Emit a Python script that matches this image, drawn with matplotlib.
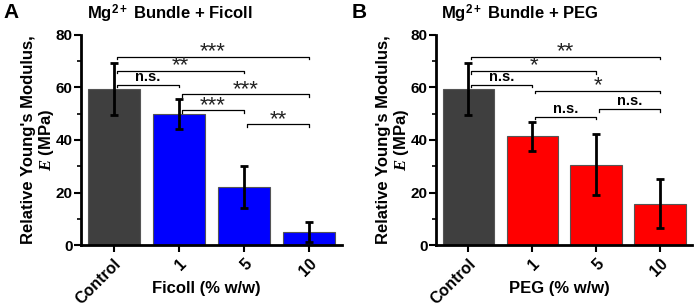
import matplotlib.pyplot as plt
import numpy as np

plt.rcParams['font.family'] = ['Liberation Sans', 'DejaVu Sans']
plt.rcParams['font.weight'] = 'bold'
plt.rcParams['axes.titleweight'] = 'bold'
plt.rcParams['axes.labelweight'] = 'bold'
plt.rcParams['mathtext.fontset'] = 'custom'
plt.rcParams['mathtext.rm'] = 'Liberation Sans:bold'
plt.rcParams['mathtext.bf'] = 'Liberation Sans:bold'
plt.rcParams['mathtext.it'] = 'Liberation Serif:italic'

categories = ['Control', '1', '5', '10']

ficoll_mean = [59.5, 50.0, 22.2, 5.0]
ficoll_err = [9.9, 5.7, 8.0, 3.7]
peg_mean = [59.5, 41.5, 30.6, 15.7]
peg_err = [9.9, 5.5, 11.5, 9.3]

# (left bar, right bar, height, label)
ficoll_sig = [(0, 3, 71.7, '***'), (0, 2, 66.4, '**'), (0, 1, 61.0, 'n.s.'),
              (1, 3, 57.5, '***'), (1, 2, 51.4, '***'), (2, 3, 46.0, '**')]
peg_sig = [(0, 3, 71.7, '**'), (0, 2, 66.3, '*'), (0, 1, 61.0, 'n.s.'),
           (1, 3, 58.8, '*'), (1, 2, 48.9, 'n.s.'), (2, 3, 51.8, 'n.s.')]


def draw_panel(ax, means, errs, color, sig, xlabel):
    x = np.arange(len(categories))
    colors = ['#3f3f3f'] + [color] * (len(categories) - 1)
    ax.bar(x, means, width=0.8, color=colors, edgecolor='#555555', linewidth=0.8)
    ax.errorbar(x, means, yerr=errs, fmt='none', ecolor='black',
                elinewidth=2, capsize=3, capthick=2)
    for a, b, h, lab in sig:
        xa = a + 0.05
        xb = b
        ax.plot([xa, xa, xb, xb], [h - 1.0, h, h, h - 1.0], color='black', lw=0.9,
                clip_on=False)
        if '*' in lab:
            ax.text((xa + xb) / 2, h - 2.2, lab, ha='center', va='bottom',
                    fontsize=16, fontweight='normal', color='#222222')
        else:
            ax.text((xa + xb) / 2, h + 0.3, lab, ha='center', va='bottom',
                    fontsize=10.5)
    ax.set_xlim(-0.5, 3.5)
    ax.set_ylim(0, 80)
    ax.set_yticks([0, 20, 40, 60, 80])
    ax.set_yticks([10, 30, 50, 70], minor=True)
    ax.set_xticks(x)
    ax.set_xticklabels(categories, rotation=45, ha='right', va='top',
                       rotation_mode='anchor', fontsize=11.5)
    ax.tick_params(axis='y', labelsize=11, width=1.5, length=5, pad=1)
    ax.tick_params(axis='y', which='minor', width=1.2, length=3)
    ax.tick_params(axis='x', width=1.5, length=5, pad=3)
    for s in ['top', 'right']:
        ax.spines[s].set_visible(False)
    for s in ['left', 'bottom']:
        ax.spines[s].set_linewidth(2)
    ax.set_ylabel("Relative Young's Modulus,\n$E$ (MPa)", fontsize=12,
                  linespacing=1.05)
    ax.yaxis.set_label_coords(-0.098, 0.5)
    ax.set_xlabel(xlabel, fontsize=12)
    ax.xaxis.set_label_coords(0.48, -0.205)
    ax.xaxis.label.set_va('center')


fig = plt.figure(figsize=(6.99, 3.06), dpi=100)
ax1 = fig.add_axes([0.116, 0.199, 0.373, 0.687])
ax2 = fig.add_axes([0.624, 0.199, 0.366, 0.687])

draw_panel(ax1, ficoll_mean, ficoll_err, '#0000ff', ficoll_sig, 'Ficoll (% w/w)')
draw_panel(ax2, peg_mean, peg_err, '#ff0000', peg_sig, 'PEG (% w/w)')

fig.text(0.243, 0.955, 'Mg$^{2+}$ Bundle + Ficoll', fontsize=12,
         ha='center', va='center')
fig.text(0.744, 0.955, 'Mg$^{2+}$ Bundle + PEG', fontsize=12,
         ha='center', va='center')

fig.text(0.005, 0.99, 'A', fontsize=15, va='top', ha='left')
fig.text(0.503, 0.99, 'B', fontsize=15, va='top', ha='left')

fig.savefig('out.png', dpi=100)
